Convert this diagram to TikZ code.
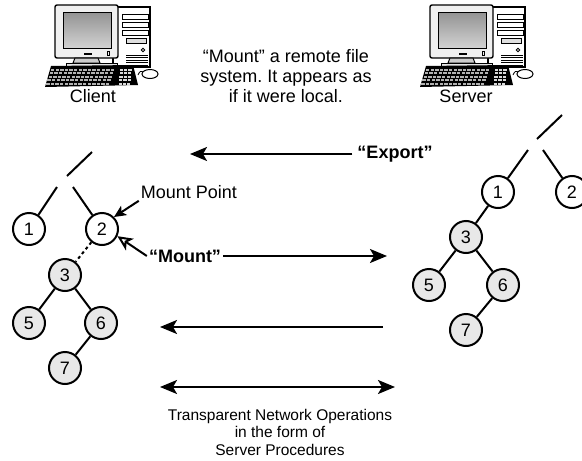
\documentclass[tikz,border=0pt]{standalone}
\usepackage{fontspec}
\setmainfont{Liberation Sans}
\frenchspacing
\usetikzlibrary{arrows.meta}

\tikzset{
  computer/.pic={
    % tower
    \filldraw[fill=white, line width=1.2pt] (58,2) rectangle (95,62);
    \foreach \y in {9,17,25}
      \filldraw[fill=white, line width=.8pt] (67,\y) rectangle (93,\y+5);
    \filldraw[fill=gray!25, line width=.8pt] (71,33) rectangle (91,38);
    \draw[line width=.9pt] (88,45) circle (1.8);
    \foreach \y in {50,52.5,...,60}
      \draw[line width=.7pt] (71,\y) -- (93,\y);
    % monitor
    \filldraw[fill=gray!12, line width=1.4pt, rounded corners=2pt] (0,0) rectangle (63,53);
    \shadedraw[top color=gray!85, bottom color=gray!35, line width=1pt] (8,7) rectangle (56,43);
    \fill (29,48) rectangle (37,50);
    \draw[line width=.8pt] (52,46) rectangle (54,50);
    \filldraw[fill=gray!40, line width=1pt] (20,53) -- (43,53) -- (45,58) -- (18,58) -- cycle;
    \filldraw[fill=gray!20, line width=1pt] (11,58) rectangle (62,62);
    % keyboard
    \fill (-10,82) -- (-4,61) -- (78,60) -- (83,80) -- cycle;
    \foreach \r in {0,...,4}
    { \foreach \c in {0,...,13}
        \fill[gray!60] ({-4-1.2*\r+4.6*\c},{63.5+3.5*\r}) rectangle +(3.4,2.4);
      \foreach \c in {0,1,2}
        \fill[gray!30] ({65-0.3*\r+4.2*\c},{63.5+3.5*\r}) rectangle +(3.2,2.4); }
    % mouse
    \draw[line width=.8pt] (83,70) .. controls (85,66) .. (89,67);
    \filldraw[fill=white, line width=1pt] (95,69) ellipse (8 and 4.5);
  },
  bigtip/.tip={Stealth[length=17pt,width=14pt,inset=4pt]},
  vtx/.style={circle, draw, line width=2pt, minimum size=32pt, inner sep=0pt,
    font=\fontsize{18}{18}\selectfont},
  sub/.style={vtx, fill=gray!18},
  ln/.style={line width=2pt},
  lbl/.style={inner sep=2pt, font=\fontsize{18}{20}\selectfont},
  arr/.style={line width=2pt, -bigtip},
  arrsm/.style={line width=2pt, -{Stealth[length=12pt,width=11pt,inset=3pt]}},
  openarr/.style={line width=2pt, -{Stealth[open,fill=white,length=15pt,width=14pt,inset=4pt]}},
}

\begin{document}
\begin{tikzpicture}[x=1pt,y=-1pt]
  \useasboundingbox (0,0) rectangle (582,461);

  % machines
  \pic at (55,5) {computer};
  \pic at (430,5) {computer};
  \node[lbl] (client) at (93,96) {Client};
  \node[lbl] (server) at (466,96) {Server};
  \node[lbl, align=center] (note) at (286,76)
    {“Mount” a remote file\\ system. It appears as\\ if it were local.};

  % client tree
  \path (92,152) coordinate (ct) (67,176) coordinate (cb);
  \path (57,187) coordinate (cl) (73,187) coordinate (cr);
  \node[vtx] (c1) at (29,229) {1};
  \node[vtx] (c2) at (102,229) {2};
  \node[sub] (c3) at (65,275) {3};
  \node[sub] (c5) at (29,323) {5};
  \node[sub] (c6) at (101,323) {6};
  \node[sub] (c7) at (65,368) {7};
  \draw[ln] (ct) -- (cb) (cl) -- (c1) (cr) -- (c2);
  \draw[ln] (c3) -- (c5) (c3) -- (c6) (c6) -- (c7);
  \draw[ln, dash pattern=on 3pt off 3pt] (c2) -- (c3);

  % server tree
  \path (562,115) coordinate (st) (537,139) coordinate (sb);
  \path (528,150) coordinate (sl) (543,150) coordinate (sr);
  \node[vtx] (s1) at (498,192) {1};
  \node[vtx] (s2) at (572,192) {2};
  \node[sub] (s3) at (466,237) {3};
  \node[sub] (s5) at (429,285) {5};
  \node[sub] (s6) at (503,285) {6};
  \node[sub] (s7) at (466,330) {7};
  \draw[ln] (st) -- (sb) (sl) -- (s1) (sr) -- (s2);
  \draw[ln] (s1) -- (s3) (s3) -- (s5) (s3) -- (s6) (s6) -- (s7);

  % export / mount
  \node[lbl, font=\fontsize{18}{20}\selectfont\bfseries, inner sep=5pt] (export) at (395,154) {“Export”};
  \coordinate (exptip) at (190,154);
  \draw[arr] (export.west) -- (exptip);

  \node[lbl] (mp) at (189,192) {Mount Point};
  \draw[arrsm] (mp.south west) -- (c2.north east);

  \node[lbl, font=\fontsize{18}{20}\selectfont\bfseries] (mount) at (185,256) {“Mount”};
  \coordinate (mnttip) at (387,256);
  \draw[arr] (mount.east) -- (mnttip);
  \draw[openarr] (mount.west) -- (c2.-25);

  % operations
  \path (383,327) coordinate (op1) (160,327) coordinate (op2);
  \path (160,387) coordinate (op3) (395,387) coordinate (op4);
  \draw[arr] (op1) -- (op2);
  \draw[line width=2pt, bigtip-bigtip] (op3) -- (op4);
  \node[align=center, font=\fontsize{15.5}{17.5}\selectfont] (ops) at (280,432)
    {Transparent Network Operations\\ in the form of\\ Server Procedures};
\end{tikzpicture}
\end{document}
